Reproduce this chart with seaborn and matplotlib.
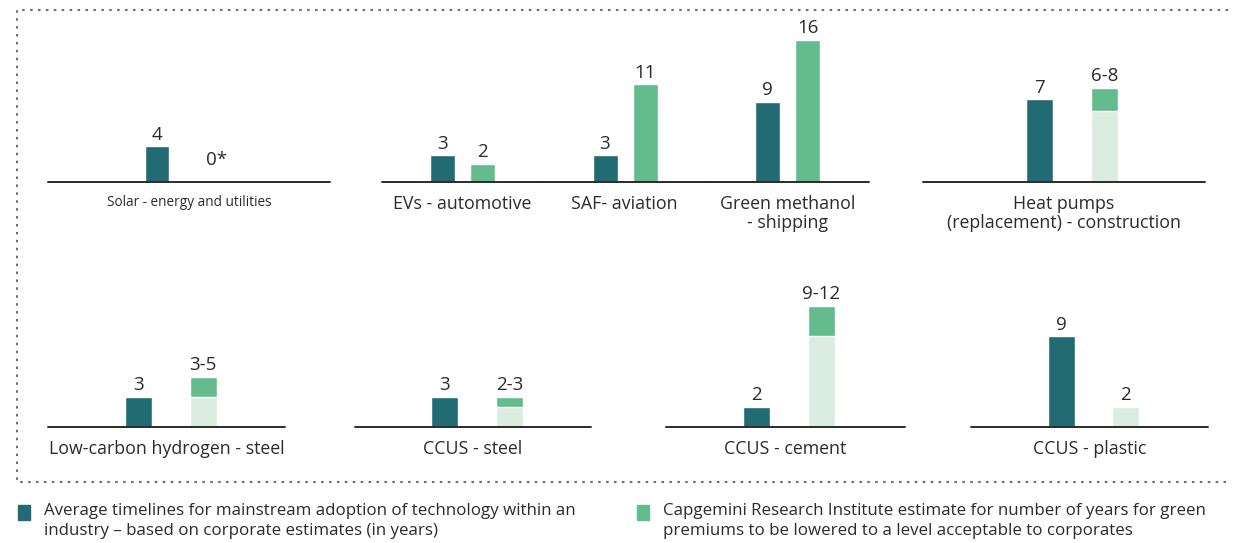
import numpy as np
import pandas as pd
import seaborn as sns
import matplotlib.pyplot as plt
from matplotlib.lines import Line2D
from matplotlib.patches import Rectangle

# data
sectors = [
    "Solar - energy and utilities",
    "EVs - automotive",
    "SAF- aviation",
    "Green methanol\n- shipping",
    "Heat pumps\n(replacement) - construction",
    "Low-carbon hydrogen - steel",
    "CCUS - steel",
    "CCUS - cement",
    "CCUS - plastic",
]
avg_years = [4, 3, 3, 9, 7, 3, 3, 2, 9]
cri_low = [np.nan, np.nan, np.nan, np.nan, 6, 3, 2, 9, 2]
cri_high = [0, 2, 11, 16, 8, 5, 3, 12, 2]
cri_labels = ["0*", "2", "11", "16", "6-8", "3-5", "2-3", "9-12", "2"]

legend_avg = ("Average timelines for mainstream adoption of technology within an\n"
              "industry – based on corporate estimates (in years)")
legend_cri = ("Capgemini Research Institute estimate for number of years for green\n"
              "premiums to be lowered to a level acceptable to corporates")

DARK = "#236B73"
GREEN = "#63BB8E"
LIGHT = "#DAEDE0"
TXT = "#2b2b2b"

# panel layout in pixels: left, right, baseline, top, first bar centre, spacing, bar width, px per year, label size
layout = [
    (48, 330, 182, 22, 157, 60, 24, 8.88, 9.8),
    (382, 543, 182, 22, 442.5, 40, 25, 8.88, 12.8),
    (543, 706, 182, 22, 605, 40.5, 25, 8.88, 12.8),
    (706, 869, 182, 22, 767.5, 40, 25, 8.88, 12.8),
    (923, 1205, 182, 22, 1039.5, 65, 27, 11.8, 12.8),
    (48, 285, 427, 280, 138, 65, 27, 10.07, 12.8),
    (355, 591, 427, 280, 444.5, 65, 27, 10.07, 12.8),
    (666, 905, 427, 280, 756.5, 65, 27, 10.07, 12.8),
    (971, 1208, 427, 280, 1061.5, 64, 27, 10.07, 12.8),
]

sns.set_theme(style="white")
plt.rcParams["font.family"] = ["Open Sans", "DejaVu Sans"]

W, H = 1233, 543
fig = plt.figure(figsize=(W / 100, H / 100), dpi=100)

for i, (L, R, base, top, c0, sp, bw, ppu, lfs) in enumerate(layout):
    ax = fig.add_axes([L / W, 1 - base / H, (R - L) / W, (base - top) / H])
    df = pd.DataFrame({"series": ["avg", "cri"], "years": [avg_years[i], cri_high[i]]})
    sns.barplot(data=df, x="series", y="years", hue="series", palette=[DARK, GREEN],
                width=bw / sp, saturation=1, errorbar=None, legend=False, ax=ax)
    if not np.isnan(cri_low[i]):
        sns.barplot(x=["cri"], y=[cri_low[i]], order=["avg", "cri"], color=LIGHT,
                    width=bw / sp, saturation=1, errorbar=None, ax=ax)
    ax.set_xlim((L - c0) / sp, (R - c0) / sp)
    ax.set_ylim(0, (base - top) / ppu)
    ax.axis("off")
    ax.axhline(0, color=TXT, lw=1.4, clip_on=False)

    ax.annotate(str(avg_years[i]), (0, avg_years[i]), xytext=(0, 2), textcoords="offset points",
                ha="center", va="bottom", fontsize=13.5, color=TXT)
    if cri_high[i] == 0:
        ax.annotate(cri_labels[i], (1, 0), xytext=(0, 16), textcoords="offset points",
                    ha="center", va="center", fontsize=13.5, color=TXT)
    else:
        ax.annotate(cri_labels[i], (1, cri_high[i]), xytext=(0, 2), textcoords="offset points",
                    ha="center", va="bottom", fontsize=13.5, color=TXT)

    ax.annotate(sectors[i], (0.5, 0), xycoords="axes fraction", xytext=(0, -9.5),
                textcoords="offset points", ha="center", va="top", fontsize=lfs,
                color=TXT, linespacing=1.08)

# dotted frame (left, top, bottom)
xs = np.array([1228, 17, 17, 1228]) / W
ys = 1 - np.array([10, 10, 481.5, 481.5]) / H
fig.add_artist(Line2D(xs, ys, color="#6e6e6e", lw=1.5, linestyle=(0, (1.2, 2.6))))

# legend
fig.add_artist(Rectangle((18 / W, 1 - 520 / H), 12 / W, 15 / H, color=DARK))
fig.text(44 / W, 1 - 503 / H, legend_avg, ha="left", va="top", fontsize=12.2,
         color=TXT, linespacing=1.3)
fig.add_artist(Rectangle((637 / W, 1 - 520 / H), 12 / W, 15 / H, color=GREEN))
fig.text(663 / W, 1 - 503 / H, legend_cri, ha="left", va="top", fontsize=12.2,
         color=TXT, linespacing=1.3)

fig.savefig("out.png", dpi=100)
